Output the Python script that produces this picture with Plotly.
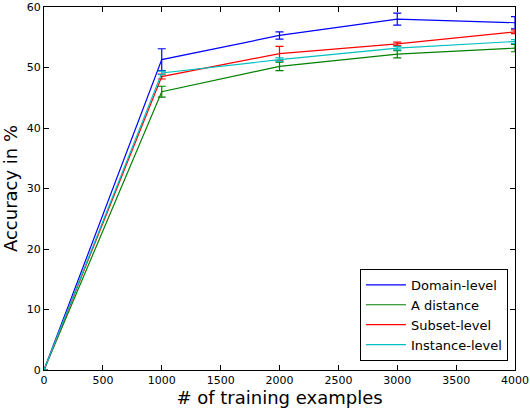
import plotly.graph_objects as go

# training set sizes
train_sizes = [0, 1000, 2000, 3000, 4000]

# accuracy (%) per method, with error bar half widths
domain_level = [0, 51.3, 55.3, 58.0, 57.4]
domain_level_err = [0, 1.8, 0.6, 1.0, 1.0]
a_distance = [0, 46.0, 50.2, 52.2, 53.2]
a_distance_err = [0, 0.9, 0.7, 0.6, 0.6]
subset_level = [0, 48.5, 52.3, 53.9, 55.9]
subset_level_err = [0, 0.4, 1.2, 0.3, 0.3]
instance_level = [0, 49.1, 51.3, 53.2, 54.3]
instance_level_err = [0, 0.3, 0.3, 0.3, 0.3]

x_ticks = [0, 500, 1000, 1500, 2000, 2500, 3000, 3500, 4000]
y_ticks = [0, 10, 20, 30, 40, 50, 60]

series = [
    ("Domain-level", domain_level, domain_level_err, "#0000ff"),
    ("A distance", a_distance, a_distance_err, "#008000"),
    ("Subset-level", subset_level, subset_level_err, "#ff0000"),
    ("Instance-level", instance_level, instance_level_err, "#00bfbf"),
]

font = "DejaVu Sans, sans-serif"

fig = go.Figure()
for name, vals, errs, color in series:
    fig.add_trace(go.Scatter(
        x=train_sizes, y=vals, name=name, mode="lines",
        line=dict(color=color, width=1.2),
        error_y=dict(type="data", array=errs, visible=True,
                     color=color, thickness=1.2, width=4),
    ))

axis_common = dict(
    showline=True, linecolor="black", linewidth=1, mirror="ticks",
    ticks="inside", ticklen=5, tickcolor="black", showgrid=False,
    zeroline=False, tickfont=dict(family=font, size=11, color="black"),
)

fig.update_layout(
    width=530, height=410,
    margin=dict(l=44, r=15, t=7, b=40, autoexpand=False),
    paper_bgcolor="white", plot_bgcolor="white",
    font=dict(family=font, color="black"),
    xaxis=dict(range=[0, 4000], tickvals=x_ticks,
               title=dict(text="# of training examples",
                          font=dict(size=18), standoff=2),
               **axis_common),
    yaxis=dict(range=[0, 60], tickvals=y_ticks,
               title=dict(text="Accuracy in %",
                          font=dict(size=18), standoff=4),
               **axis_common),
    showlegend=True,
    legend=dict(x=0.985, y=0.025, xanchor="right", yanchor="bottom",
                bgcolor="white", bordercolor="black", borderwidth=1,
                font=dict(family=font, size=13, color="black"),
                itemwidth=40, tracegroupgap=0),
)

fig.write_html("out.html", config={"displayModeBar": False},
               post_script="document.body.style.margin='0';")
